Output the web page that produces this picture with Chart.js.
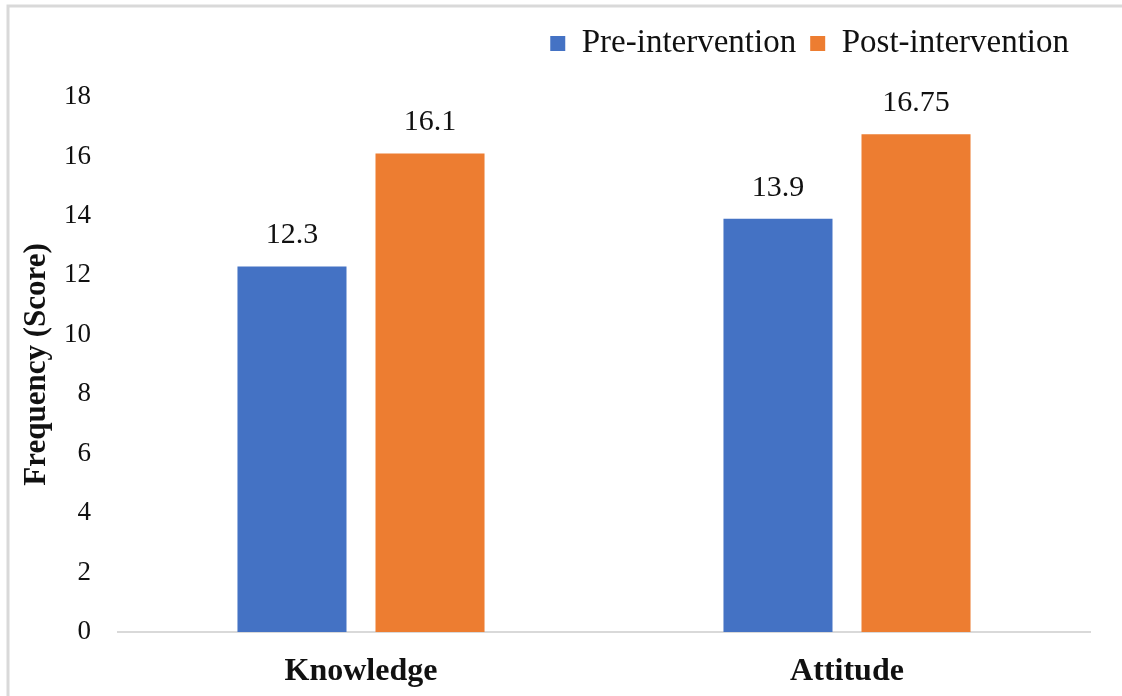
<!DOCTYPE html>
<html>
<head>
<meta charset="utf-8">
<script src="https://cdn.jsdelivr.net/npm/chart.js@4/dist/chart.umd.min.js"></script>
<style>
  html, body { margin: 0; padding: 0; background: #fff; }
  #wrap { position: relative; width: 1122px; height: 696px; }
</style>
</head>
<body>
<div id="wrap"><canvas id="c" width="1122" height="696"></canvas></div>
<script>
// Mean scores before and after the intervention
const categories = ['Knowledge', 'Attitude'];
const seriesNames = ['Pre-intervention', 'Post-intervention'];
const preValues = [12.3, 13.9];
const postValues = [16.1, 16.75];
const yTicks = [0, 2, 4, 6, 8, 10, 12, 14, 16, 18];

const SERIF = '"Liberation Serif", "Times New Roman", serif';

// Light frame around the figure
const framePlugin = {
  id: 'frame',
  beforeDraw(chart) {
    const ctx = chart.ctx;
    ctx.save();
    ctx.fillStyle = '#ffffff';
    ctx.fillRect(0, 0, chart.width, chart.height);
    ctx.strokeStyle = '#d9d9d9';
    ctx.lineWidth = 3;
    ctx.beginPath();
    ctx.moveTo(8, chart.height);
    ctx.lineTo(8, 6);
    ctx.lineTo(chart.width, 6);
    ctx.stroke();
    ctx.restore();
  }
};

// Extra room between the legend and the plot, and a small inset from the right
const legendSpacer = {
  id: 'legendSpacer',
  beforeInit(chart) {
    const fit = chart.legend.fit;
    chart.legend.fit = function () {
      fit.bind(chart.legend)();
      this.height += 27;
      if (this.lineWidths && this.lineWidths.length) this.lineWidths[0] += 7;
    };
  }
};

// Value written above each bar
const valueLabels = {
  id: 'valueLabels',
  afterDatasetsDraw(chart) {
    const ctx = chart.ctx;
    ctx.save();
    ctx.font = '30px ' + SERIF;
    ctx.fillStyle = '#111';
    ctx.textAlign = 'center';
    ctx.textBaseline = 'middle';
    chart.data.datasets.forEach((ds, i) => {
      chart.getDatasetMeta(i).data.forEach((bar, j) => {
        ctx.fillText(String(ds.data[j]), bar.x, bar.y - 31);
      });
    });
    ctx.restore();
  }
};

new Chart(document.getElementById('c'), {
  type: 'bar',
  data: {
    labels: categories,
    datasets: [
      { label: seriesNames[0], data: preValues, backgroundColor: '#4472C4' },
      { label: seriesNames[1], data: postValues, backgroundColor: '#ED7D31' }
    ]
  },
  options: {
    responsive: false,
    animation: false,
    devicePixelRatio: 1,
    layout: { padding: { top: 13, right: 32, left: 10, bottom: 0 } },
    datasets: { bar: { categoryPercentage: 0.568, barPercentage: 0.79 } },
    plugins: {
      tooltip: { enabled: false },
      legend: {
        position: 'top',
        align: 'end',
        labels: {
          font: { family: SERIF, size: 33 },
          color: '#111',
          boxWidth: 15,
          boxHeight: 15,
          padding: 14
        }
      }
    },
    scales: {
      x: {
        grid: { display: false, drawTicks: false },
        border: { display: true, color: '#d9d9d9', width: 2 },
        ticks: {
          font: { family: SERIF, size: 32, weight: 'bold' },
          color: '#111',
          padding: 21
        },
        afterFit(scale) { scale.height = 64; }
      },
      y: {
        min: 0,
        max: 18,
        afterBuildTicks(scale) { scale.ticks = yTicks.map(v => ({ value: v })); },
        grid: { display: false, drawTicks: false },
        border: { display: false },
        ticks: {
          font: { family: SERIF, size: 27 },
          color: '#111',
          padding: 27
        },
        title: {
          display: true,
          text: 'Frequency (Score)',
          font: { family: SERIF, size: 31, weight: 'bold' },
          color: '#111',
          padding: { top: 8, bottom: 0 }
        },
        afterFit(scale) { scale.width = 108; }
      }
    }
  },
  plugins: [framePlugin, legendSpacer, valueLabels]
});
</script>
</body>
</html>
